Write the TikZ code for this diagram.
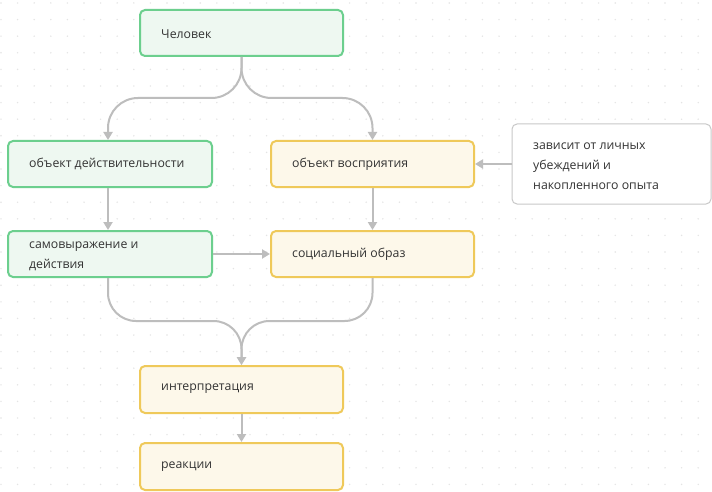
\documentclass[tikz,border=0pt]{standalone}
\usepackage{fontspec}
\setmainfont{Open Sans}
\usetikzlibrary{arrows.meta}
\definecolor{gborder}{HTML}{6CCF8E}
\definecolor{gfill}{HTML}{EEF8F1}
\definecolor{yborder}{HTML}{EFC95A}
\definecolor{yfill}{HTML}{FDF8EA}
\definecolor{nborder}{HTML}{C8C8C8}
\definecolor{conn}{HTML}{BDBDBD}
\definecolor{txt}{HTML}{333333}
\definecolor{dotc}{HTML}{E4E4E4}
\begin{document}
\begin{tikzpicture}[x=1pt,y=-1pt,
  box/.style={rounded corners=5pt, line width=2pt},
  gbox/.style={box, draw=gborder, fill=gfill},
  ybox/.style={box, draw=yborder, fill=yfill},
  nbox/.style={rounded corners=5pt, line width=1pt, draw=nborder, fill=white},
  lbl/.style={anchor=west, text=txt, font=\fontsize{12.3}{20}\selectfont, align=left, inner sep=0pt},
  conn/.style={draw=conn, line width=2pt, -{Triangle[length=8pt,width=9pt]}}
]
\useasboundingbox (0,0) rectangle (712,492);
\fill[white] (0,0) rectangle (712,492);
% dot grid
\foreach \i in {0,...,42} {
  \foreach \j in {0,...,29} {
    \fill[dotc] (1+\i*16.6, 3+\j*16.6) circle (0.8pt);
  }
}
% boxes
\draw[gbox] (140,10) rectangle (343,56);
\node[lbl] (tchel) at (161,34) {Человек};

\draw[gbox] (8,141) rectangle (212,187);
\node[lbl] (tod) at (29,164) {объект действительности};

\draw[ybox] (271,141) rectangle (474,187);
\node[lbl] (tov) at (292,164) {объект восприятия};

\draw[gbox] (8,231) rectangle (212,277);
\node[lbl] (tsam) at (29,256) {самовыражение и\\действия};

\draw[ybox] (271,231) rectangle (474,277);
\node[lbl] (tso) at (292,254) {социальный образ};

\draw[nbox] (512,124) rectangle (711,204);
\node[lbl] (tnote) at (533,166) {зависит от личных\\убеждений и\\накопленного опыта};

\draw[ybox] (140,366) rectangle (343,413);
\node[lbl] (tint) at (161,389) {интерпретация};

\draw[ybox] (140,443) rectangle (343,490);
\node[lbl] (trea) at (161,467) {реакции};

% anchor coordinates
\coordinate (chelB) at (241.5,57);
\coordinate (odT) at (108,140);
\coordinate (ovT) at (372.5,140);
\coordinate (odB) at (108,188);
\coordinate (ovB) at (372.5,188);
\coordinate (samT) at (108,230);
\coordinate (soT) at (372.5,230);
\coordinate (samR) at (213,254);
\coordinate (soL) at (270,254);
\coordinate (ovR) at (475,164);
\coordinate (noteL) at (512,164);
\coordinate (samB) at (108,278);
\coordinate (soB) at (372.5,278);
\coordinate (intT) at (241.5,365);
\coordinate (intB) at (241.5,414);
\coordinate (reaT) at (241.5,442);
\coordinate (mid1) at (241.5,98);
\coordinate (mid2) at (241.5,321);

% connectors
\draw[conn, rounded corners=30pt] (chelB) -- (mid1) -| (odT);
\draw[conn, rounded corners=30pt] (chelB) -- (mid1) -| (ovT);
\draw[conn] (odB) -- (samT);
\draw[conn] (ovB) -- (soT);
\draw[conn] (samR) -- (soL);
\draw[conn] (noteL) -- (ovR);
\draw[conn, rounded corners=28pt] (samB) |- (mid2) -- (intT);
\draw[conn, rounded corners=28pt] (soB) |- (mid2) -- (intT);
\draw[conn] (intB) -- (reaT);
\end{tikzpicture}
\end{document}
